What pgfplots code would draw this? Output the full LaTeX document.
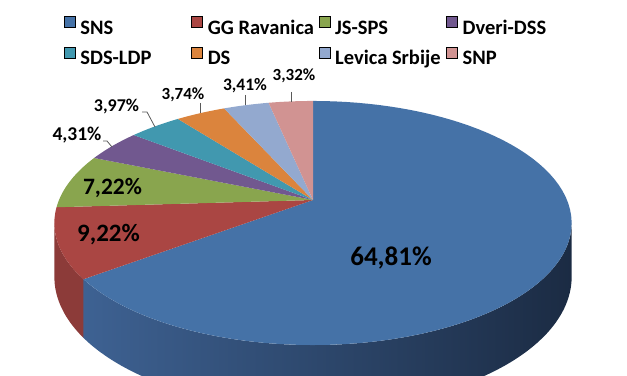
\documentclass[border=0pt]{standalone}
\usepackage{fontspec}
\setmainfont{Carlito}
\usepackage{pgfplots}
\usepackage{pgfplotstable}
\pgfplotsset{compat=1.18}

\definecolor{slc0}{HTML}{4572A7}
\definecolor{slc1}{HTML}{AA4643}
\definecolor{slc2}{HTML}{89A54E}
\definecolor{slc3}{HTML}{71588F}
\definecolor{slc4}{HTML}{4198AF}
\definecolor{slc5}{HTML}{DB843D}
\definecolor{slc6}{HTML}{93A9CF}
\definecolor{slc7}{HTML}{D19392}
\definecolor{sideBL}{HTML}{3E6293}
\definecolor{sideBR}{HTML}{1B2B43}
\definecolor{sideR}{HTML}{8C3B39}
\definecolor{leader}{HTML}{595959}

% vote shares (%)
\pgfplotstableread{
party pct
SNS 64.81
GG 9.22
JS 7.22
Dveri 4.31
SDS 3.97
DS 3.74
Levica 3.41
SNP 3.32
}\piedata
\pgfplotstablecreatecol[create col/expr accum={\pgfmathaccuma + 3.6*\thisrow{pct}}{0}]{a1}\piedata
\pgfplotstablecreatecol[create col/expr={\thisrow{a1} - 3.6*\thisrow{pct}}]{a0}\piedata

\newcommand{\legbox}[1]{\makebox[111bp][l]{#1}}

\begin{document}
\begin{tikzpicture}
\begin{axis}[
  width=627bp, height=376bp, scale only axis,
  xmin=0, xmax=627, ymin=0, ymax=376,
  hide axis, clip=true,
  declare function={
    ss(\a)=1/(1+0.1885*cos(\a));
    px(\a)=313+254*sin(\a)*ss(\a);
    py(\a)=176+117.7*cos(\a)*ss(\a);
    ag(\t,\p,\q)=(\t<=1)*(\p+(\q-\p)*\t)+(\t>1)*(\q-(\q-\p)*(\t-1));
  },
  legend columns=4,
  legend image code/.code={\fill[#1] (0bp,2bp) rectangle (11bp,13bp);},
  legend style={draw=none, fill=none, inner sep=0pt, outer sep=0pt,
    at={(axis description cs:0.10207,0.95612)}, anchor=north west,
    column sep=0pt, row sep=8bp,
    /tikz/every odd column/.append style={column sep=5bp},
    nodes={font=\bfseries\fontsize{20.5bp}{24bp}\selectfont,
      inner xsep=0pt, inner ysep=0pt, text height=14bp, text depth=4bp}},
]
\pgfplotstablegetelem{0}{a1}\of\piedata
\let\sA\pgfplotsretval
% sides
\addplot[draw=none, left color=sideBL, right color=sideBR, domain=0:2, samples=201, variable=\t, forget plot]
  ({px(ag(\t,100.87,\sA+1.5))}, {py(ag(\t,100.87,\sA+1.5)) - (\t>1)*52*ss(ag(\t,100.87,\sA+1.5))}) -- cycle;
\addplot[draw=none, fill=sideR, domain=0:2, samples=101, variable=\t, forget plot]
  ({px(ag(\t,\sA,259.13))}, {py(ag(\t,\sA,259.13)) - (\t>1)*52*ss(ag(\t,\sA,259.13))}) -- cycle;
% top faces
\pgfplotsinvokeforeach{0,...,7}{
  \pgfplotstablegetelem{#1}{a0}\of\piedata \let\aA\pgfplotsretval
  \pgfplotstablegetelem{#1}{a1}\of\piedata \let\aB\pgfplotsretval
  \addplot[fill=slc#1, draw=none, domain=\aA:\aB, samples=80, variable=\a, forget plot]
    ({px(\a)}, {py(\a)}) -- (axis cs:313,176) -- cycle;
}
% leader lines
\draw[leader, line width=0.8bp] (axis cs:103,235) -- (axis cs:107,235) -- (axis cs:112,229);
\draw[leader, line width=0.8bp] (axis cs:142,264) -- (axis cs:147,264) -- (axis cs:155,249);
\draw[leader, line width=0.8bp] (axis cs:200.7,273) -- (axis cs:200.7,263);
\draw[leader, line width=0.8bp] (axis cs:245.7,281) -- (axis cs:245.7,271);
\draw[leader, line width=0.8bp] (axis cs:291,284) -- (axis cs:291,274);
% data labels
\node[font=\bfseries\fontsize{27bp}{30bp}\selectfont, inner sep=0pt] at (axis cs:391,118) {64,81\%};
\node[font=\bfseries\fontsize{25bp}{28bp}\selectfont, inner sep=0pt] at (axis cs:108.5,141) {9,22\%};
\node[font=\bfseries\fontsize{23.5bp}{27bp}\selectfont, inner sep=0pt] at (axis cs:112.5,188.5) {7,22\%};
\node[font=\bfseries\fontsize{19.5bp}{22bp}\selectfont, inner sep=0pt] at (axis cs:77,241) {4,31\%};
\node[font=\bfseries\fontsize{18bp}{21bp}\selectfont, inner sep=0pt] at (axis cs:116.5,269) {3,97\%};
\node[font=\bfseries\fontsize{17bp}{20bp}\selectfont, inner sep=0pt] at (axis cs:183,281) {3,74\%};
\node[font=\bfseries\fontsize{17.5bp}{20bp}\selectfont, inner sep=0pt] at (axis cs:245,290) {3,41\%};
\node[font=\bfseries\fontsize{17bp}{20bp}\selectfont, inner sep=0pt] at (axis cs:294,300) {3,32\%};
% legend
\addlegendimage{fill=slc0}\addlegendentry{\legbox{SNS}}
\addlegendimage{fill=slc1}\addlegendentry{\legbox{GG Ravanica}}
\addlegendimage{fill=slc2}\addlegendentry{\legbox{JS-SPS}}
\addlegendimage{fill=slc3}\addlegendentry{\legbox{Dveri-DSS}}
\addlegendimage{fill=slc4}\addlegendentry{\legbox{SDS-LDP}}
\addlegendimage{fill=slc5}\addlegendentry{\legbox{DS}}
\addlegendimage{fill=slc6}\addlegendentry{\legbox{Levica Srbije}}
\addlegendimage{fill=slc7}\addlegendentry{\legbox{SNP}}
\end{axis}
\pgfresetboundingbox
\path[use as bounding box] (current axis.south west) rectangle (current axis.north east);
\end{tikzpicture}
\end{document}
